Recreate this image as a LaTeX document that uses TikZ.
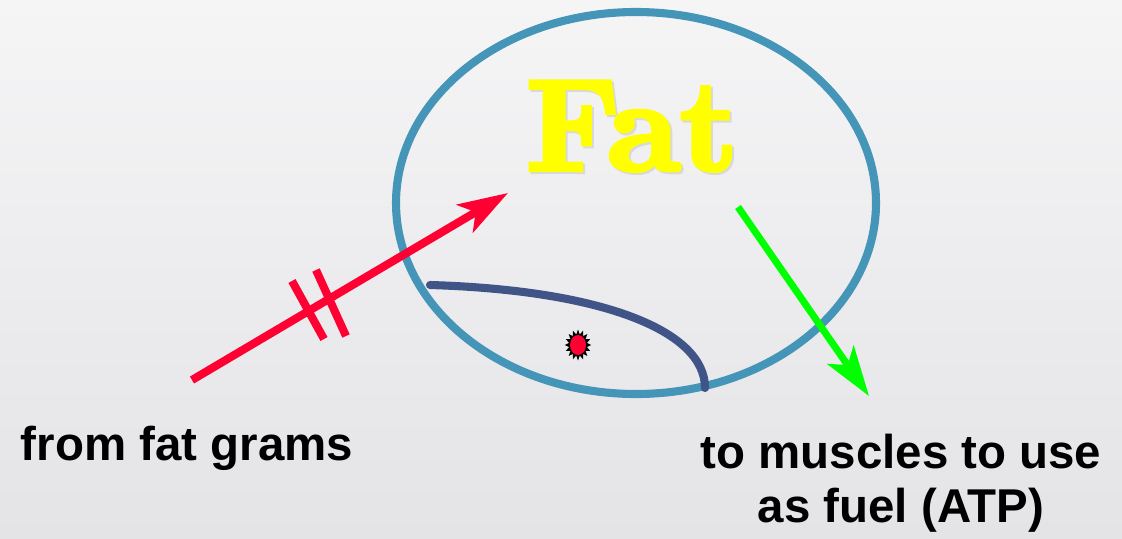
\documentclass[tikz,border=0pt]{standalone}
\usepackage{fontspec}
\setsansfont{Liberation Sans}
\newfontfamily\fatfont{lmroman10-bold.otf}[FakeBold=3.5]
\usetikzlibrary{arrows.meta,shapes.geometric}
\definecolor{bgtop}{RGB}{245,245,246}
\definecolor{bgbot}{RGB}{228,228,231}
\definecolor{ringblue}{RGB}{68,149,184}
\definecolor{pathblue}{RGB}{64,84,136}
\definecolor{inred}{RGB}{255,0,51}
\definecolor{outgreen}{RGB}{0,255,0}
\definecolor{fatyellow}{RGB}{255,255,0}
\tikzset{
  label/.style={font=\sffamily\bfseries\fontsize{27}{31}\selectfont, inner sep=0pt},
  fattext/.style={anchor=base,font=\fatfont\fontsize{74}{74}\selectfont},
  bigtip/.style={-{Stealth[length=1.0cm,width=0.64cm,inset=0.25cm]}}
}

\begin{document}
\begin{tikzpicture}
  \shade[top color=bgtop,bottom color=bgbot] (0,0) rectangle (22.44,10.76);
  \useasboundingbox (0,0) rectangle (22.44,10.76);
  \draw[ringblue,line width=4.6pt] (12.72,6.70) ellipse (4.80 and 3.82);
  \node[fattext,text=gray!30] at (12.68,7.32) {Fat};
  \node[fattext,text=fatyellow] (fat) at (12.64,7.36) {Fat};
  \coordinate (inTail) at (3.84,3.16);
  \coordinate (inTip) at (10.16,6.90);
  \coordinate (outTail) at (14.76,6.62);
  \coordinate (outTip) at (17.38,2.84);
  \draw[inred,line width=4.6pt,bigtip] (inTail)--(inTip);
  \draw[inred,line width=4.6pt] (5.84,5.14)--(6.48,3.98);
  \draw[inred,line width=4.6pt] (6.32,5.36)--(6.92,4.04);
  \draw[pathblue,line width=4.6pt,line cap=round] (8.60,5.06) .. controls (12.00,4.96) and (14.10,4.16) .. (14.10,3.00);
  \draw[outgreen,line width=4pt,bigtip] (outTail)--(outTip);
  \node[star,star points=16,star point ratio=1.45,fill=black,minimum size=0.62cm,inner sep=0pt,xscale=0.85] (spot) at (11.56,3.86) {};
  \fill[inred] (spot.center) ellipse (0.16 and 0.2);
  \node[label] (grams) at (3.74,1.80) {from fat grams};
  \node[label,align=center] (muscles) at (18.02,1.10) {to muscles to use\\as fuel (ATP)};
\end{tikzpicture}
\end{document}
